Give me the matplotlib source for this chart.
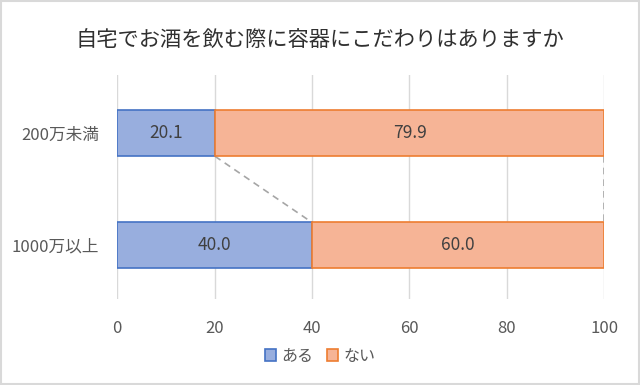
import numpy as np
import matplotlib.pyplot as plt
from matplotlib.patches import Rectangle

plt.rcParams['font.family'] = ['Noto Sans CJK JP', 'DejaVu Sans']

title = '自宅でお酒を飲む際に容器にこだわりはありますか'
categories = ['1000万以上', '200万未満']
aru = [40.0, 20.1]
nai = [60.0, 79.9]
series_names = ['ある', 'ない']
xticks = [0, 20, 40, 60, 80, 100]

blue_fill, blue_edge = '#98AEDE', '#4472C4'
orange_fill, orange_edge = '#F6B496', '#ED7D31'
text_color = '#595959'
bar_h = 0.41

fig = plt.figure(figsize=(6.4, 3.85), dpi=100)
ax = fig.add_axes([0.183, 0.223, 0.761, 0.582])

y = np.arange(len(categories))
ax.barh(y, aru, height=bar_h, color=blue_fill, edgecolor=blue_edge, linewidth=1.2,
        label=series_names[0], zorder=3)
ax.barh(y, nai, left=aru, height=bar_h, color=orange_fill, edgecolor=orange_edge,
        linewidth=1.2, label=series_names[1], zorder=3)

for i in range(len(categories)):
    ax.text(aru[i] / 2, y[i], f'{aru[i]:.1f}', ha='center', va='center',
            fontsize=12.5, color='#404040', zorder=4)
    ax.text(aru[i] + nai[i] / 2, y[i], f'{nai[i]:.1f}', ha='center', va='center',
            fontsize=12.5, color='#404040', zorder=4)

# series lines between the bars
for vals in (aru, [a + n for a, n in zip(aru, nai)]):
    ax.plot([vals[1], vals[0]], [y[1] - bar_h / 2, y[0] + bar_h / 2],
            color='#A6A6A6', linestyle=(0, (4, 3)), linewidth=1.2, zorder=2)

ax.set_xlim(0, 100)
ax.set_ylim(-0.48, 1.52)
ax.set_xticks(xticks)
ax.set_yticks(y)
ax.set_yticklabels(categories)
ax.tick_params(axis='both', length=0, labelsize=12, colors=text_color)
ax.tick_params(axis='x', pad=15)
ax.tick_params(axis='y', pad=13)
ax.grid(axis='x', color='#D9D9D9', linewidth=1, zorder=0)
for s in ax.spines.values():
    s.set_visible(False)

fig.text(0.5, 0.893, title, ha='center', va='center', fontsize=15.3, color='#303030')

leg = fig.legend(loc='center', bbox_to_anchor=(0.5, 0.075), ncol=2, frameon=False,
                 fontsize=11.5, handlelength=0.7, handleheight=0.7, handletextpad=0.3,
                 columnspacing=0.9)
for t in leg.get_texts():
    t.set_color(text_color)

fig.patches.append(Rectangle((0.002, 0.003), 0.996, 0.994, transform=fig.transFigure,
                             fill=False, edgecolor='#D9D9D9', linewidth=1.5))

fig.savefig('out.png', dpi=100, facecolor='white')
